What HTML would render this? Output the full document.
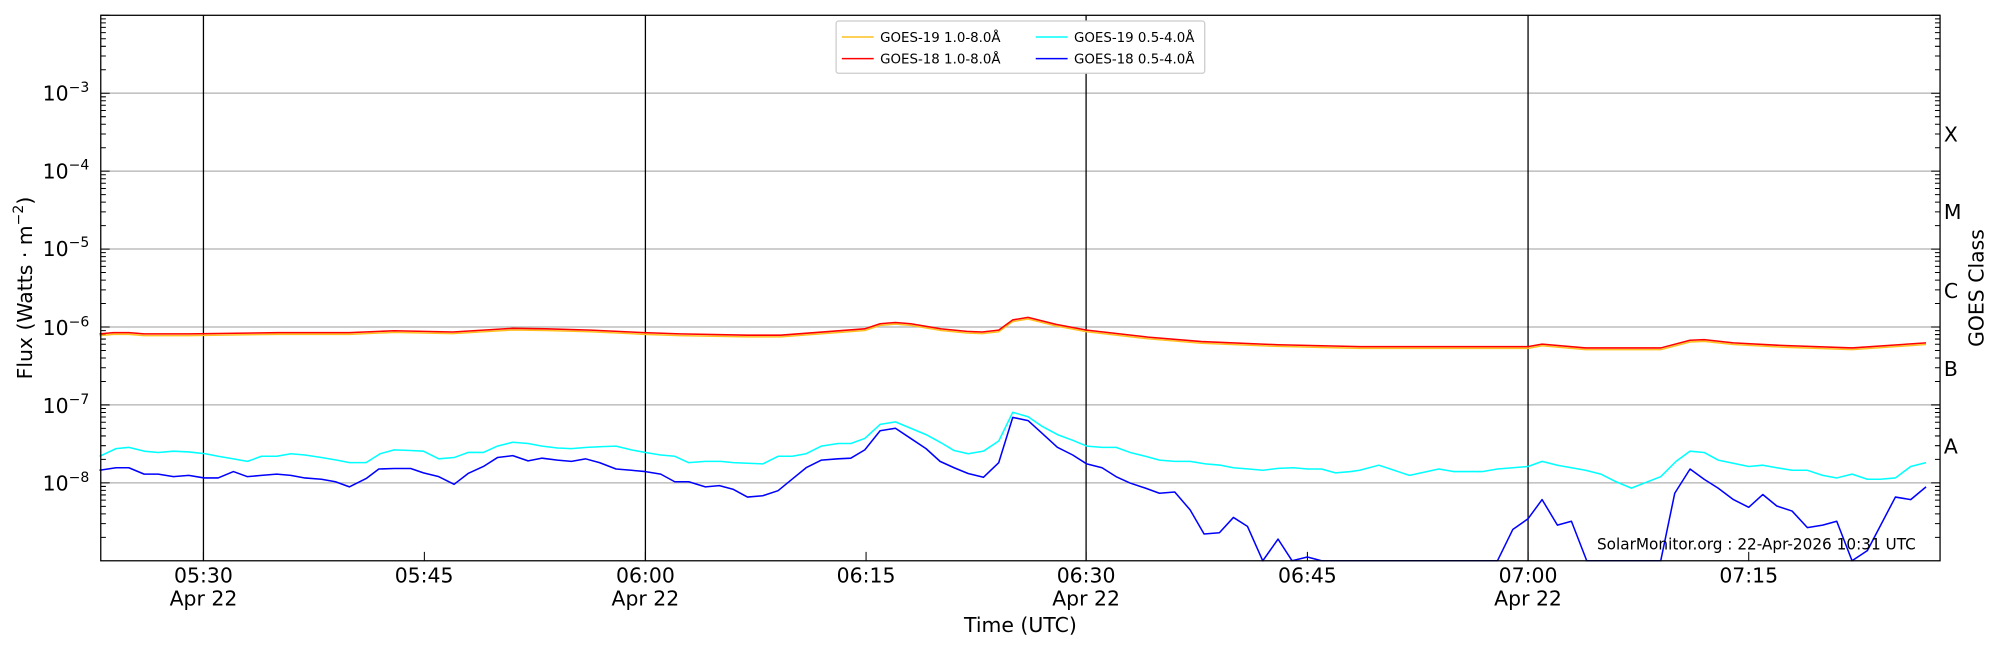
<!DOCTYPE html>
<html><head><meta charset="utf-8"><style>
html,body{margin:0;padding:0;background:#fff;}
svg{display:block;font-family:"DejaVu Sans","Liberation Sans",sans-serif;}
</style></head><body>
<svg width="2000" height="650" viewBox="0 0 1568 510" preserveAspectRatio="none" xmlns="http://www.w3.org/2000/svg" xmlns:xlink="http://www.w3.org/1999/xlink">
<defs>
<path id="dec" d="M79 -18.4h4M79 -29.17h4M79 -36.81h4M79 -42.73h4M79 -47.57h4M79 -51.67h4M79 -55.21h4M79 -58.33h4M1521 -18.4h-4M1521 -29.17h-4M1521 -36.81h-4M1521 -42.73h-4M1521 -47.57h-4M1521 -51.67h-4M1521 -55.21h-4M1521 -58.33h-4M79 -61.14h7M1521 -61.14h-7" stroke="#000" stroke-width="0.8" fill="none"/>
</defs>
<rect x="0" y="0" width="1568" height="510" fill="#fff"/>
<g stroke="#b0b0b0" stroke-width="1">
<line x1="79" x2="1521" y1="73.1" y2="73.1"/>
<line x1="79" x2="1521" y1="134.3" y2="134.3"/>
<line x1="79" x2="1521" y1="195.4" y2="195.4"/>
<line x1="79" x2="1521" y1="256.6" y2="256.6"/>
<line x1="79" x2="1521" y1="317.7" y2="317.7"/>
<line x1="79" x2="1521" y1="378.9" y2="378.9"/>
</g>
<g stroke="#000" stroke-width="1">
<line x1="159.5" x2="159.5" y1="12" y2="440"/>
<line x1="506" x2="506" y1="12" y2="440"/>
<line x1="851.5" x2="851.5" y1="12" y2="440"/>
<line x1="1198" x2="1198" y1="12" y2="440"/>
</g>
<use xlink:href="#dec" href="#dec" y="440"/>
<use xlink:href="#dec" href="#dec" y="378.86"/>
<use xlink:href="#dec" href="#dec" y="317.71"/>
<use xlink:href="#dec" href="#dec" y="256.57"/>
<use xlink:href="#dec" href="#dec" y="195.43"/>
<use xlink:href="#dec" href="#dec" y="134.29"/>
<use xlink:href="#dec" href="#dec" y="73.14"/>
<path stroke="#000" stroke-width="0.8" d="M159.5 440v-7M332.7 440v-7M506 440v-7M679 440v-7M851.5 440v-7M1025 440v-7M1198 440v-7M1371 440v-7"/>
<g fill="none" stroke-width="1.2" stroke-linejoin="round">
<polyline stroke="#00ffff" points="78,358 91,352 101,351 113,354 124,355 136,354 148,354.6 161,356 171,358 183,360 194,362 205,358 217,358 228,356 239,357 252,359 264,361 274,363 287,363 298,356 309,353 322,353.5 332,354 344,360 356,359 367,355 379,355 390,350 402,347 414,348 425,350 437,351.5 448,352 460,351 472,350.4 483,350 495,353 506,355 518,357 529,358 540,363 553,362 565,362 575,363 586,363.5 598,364 610,358 621,358 632,356 644,350 657,348 667,348 678,344 690,333 702,331 714,336 726,341 738,347.5 748,353.5 759,356 771,354 783,346 794,323.5 806,327 817,334.5 829,341 841,345.5 852,350 864,351 875,351 886,355 898,358 909,361 921,362 933,362 945,364 957,365 967,367 979,368 990,369 1002,367.5 1014,367 1025,368 1036,368 1047,371 1059,370 1066,369 1081,365 1105,373 1128,368 1140,370 1162,370 1174,368 1198,366 1209,362 1221,365 1243,369 1255,372 1267,378 1279,383 1302,374 1314,362 1325,354 1336,355 1347,361 1371,366 1382,365 1393,367 1405,369 1417,369 1429,373 1440,375 1452,372 1464,376 1474,376 1486,375 1498,366 1510,363"/>
<polyline stroke="#0000ff" points="78,369 91,367 101,367 113,372 124,372 136,374 148,373 160,375 171,375 183,370 194,374 205,373 217,372 228,373 239,375 252,376 263,378 274,382 287,375.5 297,368 309,367.6 322,367.6 332,371 344,374 356,380 367,371.5 379,366 390,359 402,357.5 414,361.6 425,359.5 437,361 448,362 459,360 470,363 483,368 495,369 506,370 518,372 529,378 540,378 553,382 564,381 575,384 586,390 598,389 610,385 621,376 632,367 644,361 657,360 667,359.5 678,353 690,338 702,336 714,344 726,352 737,362 748,367 759,371.5 771,374.5 783,363 794,327.5 806,330 817,340 829,351 841,357 852,364 864,367 875,374 886,379 898,383 909,387 921,386 933,400 944,419 956,418 967,406 978,413 990,440 1002,423 1013,440 1025,437 1036,440 1174,440 1186,415.5 1198,407 1209,392 1221,412 1232,409 1244,440 1302,440 1313,387 1325,368 1336,376 1347,383 1359,392 1371,398 1382,388 1393,397 1405,401 1417,414 1429,412 1440,409 1452,440 1464,432 1486,390 1498,392 1510,382"/>
<polyline stroke="#ffc020" transform="translate(0,1.3)" points="78,262 89,261 101,261 113,262 148,262 218,261 274,261 309,259.5 355,260.5 379,259 402,257.6 428,258 463,259 505,261 533,262 586,263 612,263 678,258 690,254 702,253 714,254 738,258 758,260 770,260.5 783,259 794,251 806,249 828,254.5 852,259 900,264.5 942,268 1002,270.5 1066,272 1198,272 1209,270 1243,273 1302,273 1325,267 1336,266.5 1359,269 1396,271 1452,273 1510,269"/>
<polyline stroke="#ff0000" points="78,262 89,261 101,261 113,262 148,262 218,261 274,261 309,259.5 355,260.5 379,259 402,257.6 428,258 463,259 505,261 533,262 586,263 612,263 678,258 690,254 702,253 714,254 738,258 758,260 770,260.5 783,259 794,251 806,249 828,254.5 852,259 900,264.5 942,268 1002,270.5 1066,272 1198,272 1209,270 1243,273 1302,273 1325,267 1336,266.5 1359,269 1396,271 1452,273 1510,269"/>
</g>
<rect x="79" y="12" width="1442" height="428" fill="none" stroke="#000" stroke-width="1"/>
<g font-size="16" fill="#000" text-anchor="end">
<text x="70" y="79">10<tspan font-size="11" dy="-7">−3</tspan></text>
<text x="70" y="140">10<tspan font-size="11" dy="-7">−4</tspan></text>
<text x="70" y="201">10<tspan font-size="11" dy="-7">−5</tspan></text>
<text x="70" y="263">10<tspan font-size="11" dy="-7">−6</tspan></text>
<text x="70" y="324">10<tspan font-size="11" dy="-7">−7</tspan></text>
<text x="70" y="385">10<tspan font-size="11" dy="-7">−8</tspan></text>
</g>
<g font-size="16" fill="#000">
<text x="1524" y="111">X</text>
<text x="1524" y="172">M</text>
<text x="1524" y="234">C</text>
<text x="1524" y="295">B</text>
<text x="1524" y="356">A</text>
</g>
<text font-size="16" transform="translate(1555,226) rotate(-90)" text-anchor="middle">GOES Class</text>
<text font-size="16" transform="translate(25,226) rotate(-90)" text-anchor="middle">Flux (Watts · m<tspan font-size="11" dy="-7">−2</tspan><tspan dy="7">)</tspan></text>
<g font-size="16" text-anchor="middle">
<text x="159.5" y="457">05:30</text><text x="159.5" y="475">Apr 22</text>
<text x="332.5" y="457">05:45</text>
<text x="506" y="457">06:00</text><text x="506" y="475">Apr 22</text>
<text x="679" y="457">06:15</text>
<text x="851.5" y="457">06:30</text><text x="851.5" y="475">Apr 22</text>
<text x="1025" y="457">06:45</text>
<text x="1198" y="457">07:00</text><text x="1198" y="475">Apr 22</text>
<text x="1371" y="457">07:15</text>
<text x="800" y="496">Time (UTC)</text>
</g>
<text x="1252" y="431" font-size="12.5" textLength="250" lengthAdjust="spacingAndGlyphs">SolarMonitor.org : 22-Apr-2026 10:31 UTC</text>
<g>
<rect x="655.5" y="16.5" width="289" height="41" rx="2" fill="#fff" stroke="#ccc"/>
<line x1="660" x2="685" y1="29" y2="29" stroke="#ffc020" stroke-width="1.2"/>
<line x1="660" x2="685" y1="46" y2="46" stroke="#ff0000" stroke-width="1.2"/>
<line x1="812" x2="837" y1="29" y2="29" stroke="#00ffff" stroke-width="1.2"/>
<line x1="812" x2="837" y1="46" y2="46" stroke="#0000ff" stroke-width="1.2"/>
<g font-size="10.5">
<text x="690" y="33">GOES-19 1.0-8.0Å</text>
<text x="690" y="50">GOES-18 1.0-8.0Å</text>
<text x="842" y="33">GOES-19 0.5-4.0Å</text>
<text x="842" y="50">GOES-18 0.5-4.0Å</text>
</g>
</g>
</svg>
</body></html>
